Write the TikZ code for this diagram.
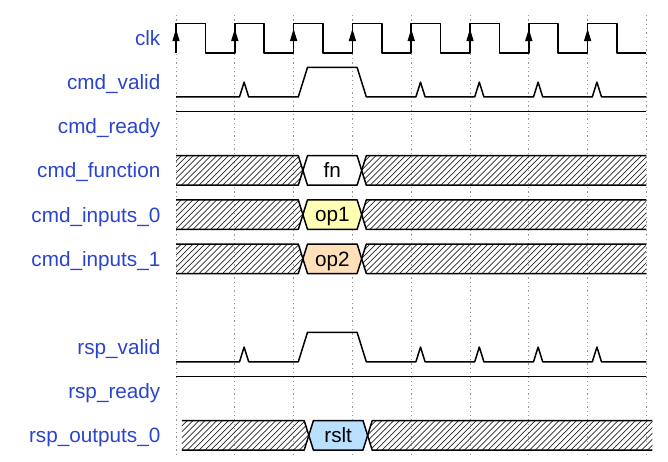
\documentclass[tikz,border=0pt]{standalone}
\usepackage{fontspec}
\setmainfont{Liberation Sans}
\definecolor{lbl}{HTML}{2A44CC}
\definecolor{opone}{HTML}{FFFFB4}
\definecolor{optwo}{HTML}{FFE0B9}
\definecolor{rsltc}{HTML}{B9E0FF}
\definecolor{gridc}{HTML}{999999}
\newcommand\datarow[5]{% #1 yc, #2 shift, #3 fill, #4 text, #5 name
  \pgfmathsetmacro\dyT{#1-14.75}\pgfmathsetmacro\dyB{#1+14.75}
  \pgfmathsetmacro\dxs{176+#2}\pgfmathsetmacro\dxa{298.3+#2}\pgfmathsetmacro\dxm{302.9+#2}
  \pgfmathsetmacro\dxb{307.5+#2}\pgfmathsetmacro\dxc{357.1+#2}\pgfmathsetmacro\dxn{361.7+#2}
  \pgfmathsetmacro\dxd{366.3+#2}\pgfmathsetmacro\dxe{646.4+#2}
  \begin{scope}
    \clip (\dxs,\dyT) -- (\dxa,\dyT) -- (\dxm,#1) -- (\dxa,\dyB) -- (\dxs,\dyB) -- cycle
          (\dxd,\dyT) -- (\dxe,\dyT) -- (\dxe,\dyB) -- (\dxd,\dyB) -- (\dxn,#1) -- cycle;
    \foreach \h in {0,...,90} \draw[hatchline] ({140+5.9*\h},\dyB) -- ++(29.5,-29.5);
  \end{scope}
  \fill[#3] (\dxm,#1) -- (\dxb,\dyT) -- (\dxc,\dyT) -- (\dxn,#1) -- (\dxc,\dyB) -- (\dxb,\dyB) -- cycle;
  \draw[wave] (\dxs,\dyT) -- (\dxa,\dyT) -- (\dxb,\dyB) -- (\dxc,\dyB) -- (\dxd,\dyT) -- (\dxe,\dyT);
  \draw[wave] (\dxs,\dyB) -- (\dxa,\dyB) -- (\dxb,\dyT) -- (\dxc,\dyT) -- (\dxd,\dyB) -- (\dxe,\dyB);
  \node[dat] (#5) at ({(\dxm+\dxn)/2},#1+7.3) {#4};
}
\begin{document}
\begin{tikzpicture}[x=1pt,y=-1pt,
  wave/.style={line width=1.5pt, line join=round},
  hatchline/.style={line width=0.7pt, black!85},
  gridline/.style={gridc, line width=0.9pt, dash pattern=on 1.3pt off 3pt},
  lab/.style={anchor=base east, inner sep=0pt, text=lbl, font=\fontsize{20.7}{25}\selectfont},
  dat/.style={anchor=base, inner sep=0pt, text=black, font=\fontsize{20.7}{25}\selectfont}]
\useasboundingbox (0,0) rectangle (668,461);
% grid
\foreach \k in {0,...,8} \draw[gridline] ({176+58.8*\k},15) -- ({176+58.8*\k},456);
% labels
\node[lab] (lclk) at (160.5,45.5) {clk};
\node[lab] (lcv) at (160.5,89.6) {cmd\_valid};
\node[lab] (lcr) at (160.5,133.8) {cmd\_ready};
\node[lab] (lcf) at (160.5,177.9) {cmd\_function};
\node[lab] (lci0) at (160.5,222.1) {cmd\_inputs\_0};
\node[lab] (lci1) at (160.5,266.2) {cmd\_inputs\_1};
\node[lab] (lrv) at (160.5,354.5) {rsp\_valid};
\node[lab] (lrr) at (160.5,398.7) {rsp\_ready};
\node[lab] (lro) at (160.5,442.8) {rsp\_outputs\_0};
% clock
\draw[wave] (176,52.8) \foreach \k in {0,...,7} { -- ++(0,-29.5) -- ++(29.4,0) -- ++(0,29.5) -- ++(29.4,0) };
\foreach \k in {0,...,7} \fill ({176+58.8*\k},29) -- ++(-3.7,12) -- ++(7.4,0) -- cycle;
% cmd_valid
\draw[wave] (176,96.9) -- (239.5,96.9) -- (244.1,82.15) -- (248.7,96.9) -- (298.3,96.9) -- (307.5,67.4)
  -- (357.1,67.4) -- (366.3,96.9) -- (415.9,96.9) -- (420.5,82.15) -- (425.1,96.9) -- (474.7,96.9)
  -- (479.3,82.15) -- (483.9,96.9) -- (533.5,96.9) -- (538.1,82.15) -- (542.7,96.9) -- (592.3,96.9)
  -- (596.9,82.15) -- (601.5,96.9) -- (646.4,96.9);
% cmd_ready
\draw[wave] (176,111.55) -- (646.4,111.55);
% data rows
\datarow{170.45}{0}{white}{fn}{dfn}
\datarow{214.6}{0}{opone}{op1}{dop1}
\datarow{258.75}{0}{optwo}{op2}{dop2}
% rsp_valid
\draw[wave] (176,361.8) -- (239.5,361.8) -- (244.1,347.05) -- (248.7,361.8) -- (298.3,361.8) -- (307.5,332.3)
  -- (357.1,332.3) -- (366.3,361.8) -- (415.9,361.8) -- (420.5,347.05) -- (425.1,361.8) -- (474.7,361.8)
  -- (479.3,347.05) -- (483.9,361.8) -- (533.5,361.8) -- (538.1,347.05) -- (542.7,361.8) -- (592.3,361.8)
  -- (596.9,347.05) -- (601.5,361.8) -- (646.4,361.8);
% rsp_ready
\draw[wave] (176,376.45) -- (646.4,376.45);
\datarow{435.35}{5.9}{rsltc}{rslt}{drslt}
\end{tikzpicture}
\end{document}
